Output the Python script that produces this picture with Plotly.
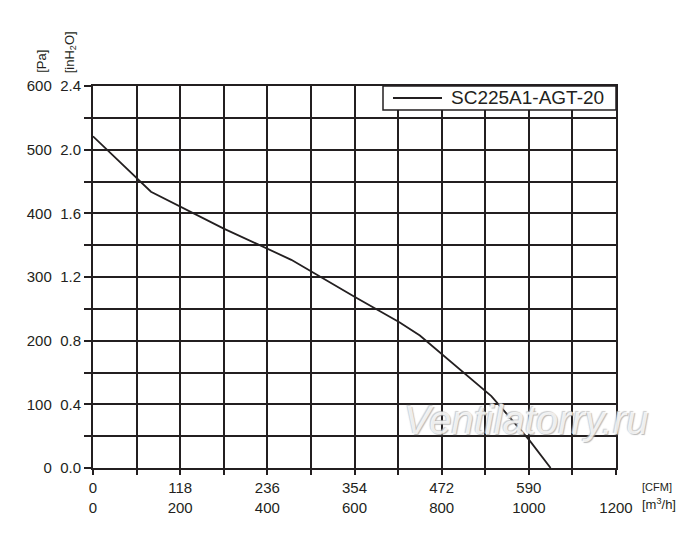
import plotly.graph_objects as go

# fan curve SC225A1-AGT-20, flow in m3/h, pressure in Pa
flow_m3h = [0, 133, 300, 400, 455, 600, 703, 750, 903, 914, 1002, 1050]
pressure_pa = [521, 434, 376, 344, 327, 269, 229, 208, 119, 113, 43, 0]
series_name = "SC225A1-AGT-20"

m3h_ticks = [0, 200, 400, 600, 800, 1000, 1200]
cfm_labels = ["0", "118", "236", "354", "472", "590", ""]
pa_ticks = [0, 100, 200, 300, 400, 500, 600]
inh2o_labels = ["0.0", "0.4", "0.8", "1.2", "1.6", "2.0", "2.4"]

ink = "#231f20"
font = "Liberation Sans, Arial, sans-serif"
nb = "\u00a0"

fig = go.Figure()
fig.add_trace(
    go.Scatter(
        x=flow_m3h,
        y=pressure_pa,
        mode="lines",
        name=series_name,
        line=dict(color=ink, width=1.8),
        showlegend=False,
    )
)

axis_common = dict(
    showgrid=True,
    gridcolor=ink,
    gridwidth=2,
    ticks="outside",
    tickwidth=2,
    tickcolor=ink,
    showline=True,
    linecolor=ink,
    linewidth=2,
    mirror=True,
    zeroline=False,
    fixedrange=True,
)

fig.update_layout(
    width=700,
    height=540,
    # page body adds ~8px offset, so margins are shifted to compensate
    margin=dict(l=85, r=92, t=78, b=80),
    paper_bgcolor="white",
    plot_bgcolor="white",
    font=dict(family=font, size=15, color=ink),
    xaxis=dict(
        range=[0, 1200],
        tickvals=m3h_ticks,
        ticktext=[f"{c}<br>{m}" for c, m in zip(cfm_labels, m3h_ticks)],
        ticklen=5,
        minor=dict(dtick=100, showgrid=True, gridcolor=ink, gridwidth=2,
                   ticks="outside", ticklen=5, tickwidth=2, tickcolor=ink),
        **axis_common,
    ),
    yaxis=dict(
        range=[0, 600],
        tickvals=pa_ticks,
        ticktext=[f"{p}{nb}{nb}{h}" for p, h in zip(pa_ticks, inh2o_labels)],
        ticklen=7,
        minor=dict(dtick=50, showgrid=True, gridcolor=ink, gridwidth=2,
                   ticks="outside", ticklen=7, tickwidth=2, tickcolor=ink),
        **axis_common,
    ),
)

# legend box drawn by hand so the sample line matches the original length
fig.add_shape(type="rect", xref="paper", yref="paper", x0=0.5545, x1=1, y0=0.937, y1=1,
              line=dict(color=ink, width=1.5), fillcolor="white", layer="above")
fig.add_shape(type="line", xref="paper", yref="paper", x0=0.5736, x1=0.6673,
              y0=0.9686, y1=0.9686, line=dict(color=ink, width=1.8), layer="above")
fig.add_annotation(text=series_name, xref="paper", yref="paper", x=0.6807, y=0.9686,
                   xanchor="left", yanchor="middle", showarrow=False,
                   font=dict(size=19, color=ink))

# unit labels
fig.add_annotation(text="[Pa]", xref="paper", yref="paper", x=-0.0975, y=1.028,
                   textangle=-90, showarrow=False, xanchor="center", yanchor="bottom",
                   font=dict(size=13, color=ink))
fig.add_annotation(text="[inH<sub>2</sub>O]", xref="paper", yref="paper", x=-0.044, y=1.028,
                   textangle=-90, showarrow=False, xanchor="center", yanchor="bottom",
                   font=dict(size=13, color=ink))
fig.add_annotation(text="[CFM]", xref="paper", yref="paper", x=1.045, y=-0.071,
                   xanchor="left", showarrow=False, font=dict(size=11, color=ink))
fig.add_annotation(text="[m<sup>3</sup>/h]", xref="paper", yref="paper", x=1.045, y=-0.121,
                   xanchor="left", showarrow=False, font=dict(size=13, color=ink))

# watermark
fig.add_annotation(text="Ventilatorry.ru", xref="paper", yref="paper", x=0.828, y=0.1257,
                   xanchor="center", yanchor="middle", showarrow=False,
                   font=dict(size=40, color="rgba(255,255,255,0.8)", style="italic",
                             family=font,
                             shadow="1px 1px 1px #a8a8a8, -1px -1px 1px #c0c0c0"))

fig.write_html("out.html")
